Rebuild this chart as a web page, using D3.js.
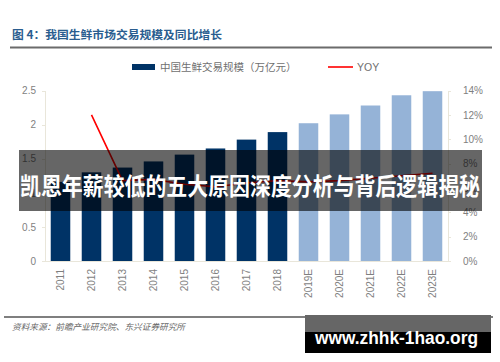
<!DOCTYPE html>
<html lang="zh">
<head>
<meta charset="utf-8">
<title>我国生鲜市场交易规模及同比增长</title>
<style>
body { margin: 0; background: #fff; }
svg { display: block; font-family: "Noto Sans CJK SC", "Noto Sans", sans-serif; }
.axis text { font-family: "Liberation Sans", "Noto Sans", sans-serif; font-size: 10px; fill: #7f7f7f; }
.axis path, .axis line { stroke: #e9e6da; shape-rendering: crispEdges; }
</style>
</head>
<body>
<div id="chart"></div>
<script src="https://d3js.org/d3.v7.min.js"></script>
<script>
  // data
  var years = ["2011", "2012", "2013", "2014", "2015", "2016", "2017", "2018",
               "2019E", "2020E", "2021E", "2022E", "2023E"];
  var tradeScale = [1.16, 1.30, 1.37, 1.46, 1.56, 1.65, 1.78, 1.89, 2.02, 2.15, 2.28, 2.43, 2.49];
  var yoy = [null, 12.0, 6.6, 6.7, 6.3, 6.1, 6.4, 6.6, 6.5, 6.6, 6.8, 7.0, 7.2];
  var leftTicks = [0, 0.5, 1, 1.5, 2, 2.5];
  var rightTicks = [0, 2, 4, 6, 8, 10, 12, 14];

  var W = 500, H = 362;
  var svg = d3.select("#chart").append("svg")
    .attr("width", W)
    .attr("height", H);

  // title + rule
  svg.append("text")
    .attr("x", 12).attr("y", 39)
    .attr("font-size", "11px").attr("font-weight", "bold")
    .attr("fill", "#2a5d8f")
    .attr("textLength", 210).attr("lengthAdjust", "spacingAndGlyphs")
    .text("图 4：我国生鲜市场交易规模及同比增长");
  svg.append("line")
    .attr("x1", 10).attr("x2", 492).attr("y1", 47.5).attr("y2", 47.5)
    .attr("stroke", "#6b6b6b").attr("stroke-width", 2);

  var x = d3.scaleBand().domain(years).range([45, 448])
    .paddingInner(0.37).paddingOuter(0.185);
  var y = d3.scaleLinear().domain([0, 2.5]).range([261, 90.5]);
  var y2 = d3.scaleLinear().domain([0, 14]).range([261, 90.5]);

  // axes
  svg.append("g").attr("class", "axis")
    .attr("transform", "translate(45,0)")
    .call(d3.axisLeft(y).tickValues(leftTicks).tickSize(3).tickPadding(6)
      .tickFormat(function(d) { return String(d); }));
  svg.append("g").attr("class", "axis")
    .attr("transform", "translate(448,0)")
    .call(d3.axisRight(y2).tickValues(rightTicks).tickSize(3).tickPadding(12)
      .tickFormat(function(d) { return d + "%"; }));
  var xa = svg.append("g").attr("class", "axis")
    .attr("transform", "translate(0,261)")
    .call(d3.axisBottom(x).tickSize(0).tickPadding(8));
  xa.selectAll("text")
    .attr("transform", "rotate(-90)")
    .attr("text-anchor", "end")
    .attr("dy", "0.35em")
    .attr("x", -8).attr("y", 0);

  // bars
  svg.selectAll(".bar")
    .data(years)
    .enter()
    .append("rect")
    .attr("class", "bar")
    .attr("x", function(d) { return x(d); })
    .attr("width", x.bandwidth())
    .attr("y", function(d, i) { return y(tradeScale[i]); })
    .attr("height", function(d, i) { return y(0) - y(tradeScale[i]); })
    .attr("fill", function(d) { return d.indexOf("E") > 0 ? "#95b3d7" : "#003366"; });

  // YOY line
  var pts = years.map(function(d, i) { return { year: d, v: yoy[i] }; })
    .filter(function(p) { return p.v !== null; });
  svg.append("path")
    .datum(pts)
    .attr("fill", "none")
    .attr("stroke", "#ff0000")
    .attr("stroke-width", 1.6)
    .attr("d", d3.line()
      .x(function(p) { return x(p.year) + x.bandwidth() / 2; })
      .y(function(p) { return y2(p.v); }));

  // legend
  var lg = svg.append("g").attr("font-size", "10.5px").attr("fill", "#6f6f6f");
  lg.append("rect").attr("x", 132).attr("y", 64).attr("width", 23).attr("height", 6).attr("fill", "#003366");
  lg.append("text").attr("x", 160).attr("y", 71).text("中国生鲜交易规模（万亿元）");
  lg.append("line").attr("x1", 328).attr("x2", 353).attr("y1", 67).attr("y2", 67)
    .attr("stroke", "#ff0000").attr("stroke-width", 1.6);
  lg.append("text").attr("x", 357).attr("y", 71)
    .attr("font-family", "Liberation Sans, sans-serif").text("YOY");

  // source line
  svg.append("line")
    .attr("x1", 4).attr("x2", 493).attr("y1", 317).attr("y2", 317)
    .attr("stroke", "#555").attr("stroke-width", 1.5);
  svg.append("text")
    .attr("x", 12).attr("y", 330)
    .attr("font-size", "8.5px").attr("font-style", "italic").attr("fill", "#666")
    .attr("textLength", 173).attr("lengthAdjust", "spacingAndGlyphs")
    .text("资料来源：前瞻产业研究院、东兴证券研究所");

  // overlay banner
  svg.append("rect")
    .attr("x", 19).attr("y", 150).attr("width", 463).attr("height", 61)
    .attr("fill", "rgba(0,0,0,0.6)");
  svg.append("text")
    .attr("x", 20).attr("y", 195)
    .attr("font-size", "24px").attr("font-weight", "bold").attr("fill", "#fff")
    .attr("textLength", 460).attr("lengthAdjust", "spacingAndGlyphs")
    .text("凯恩年薪较低的五大原因深度分析与背后逻辑揭秘");

  // watermark
  svg.append("rect").attr("x", 305).attr("y", 315).attr("width", 186).attr("height", 38).attr("fill", "#000");
  svg.append("rect").attr("x", 305).attr("y", 315).attr("width", 186).attr("height", 17).attr("fill", "#666");
  svg.append("text")
    .attr("x", 315).attr("y", 344)
    .attr("font-family", "Liberation Sans, Arial, sans-serif")
    .attr("font-size", "19px").attr("font-weight", "bold").attr("fill", "#fff")
    .attr("textLength", 163).attr("lengthAdjust", "spacingAndGlyphs")
    .text("www.zhhk-1hao.org");
</script>
</body>
</html>
